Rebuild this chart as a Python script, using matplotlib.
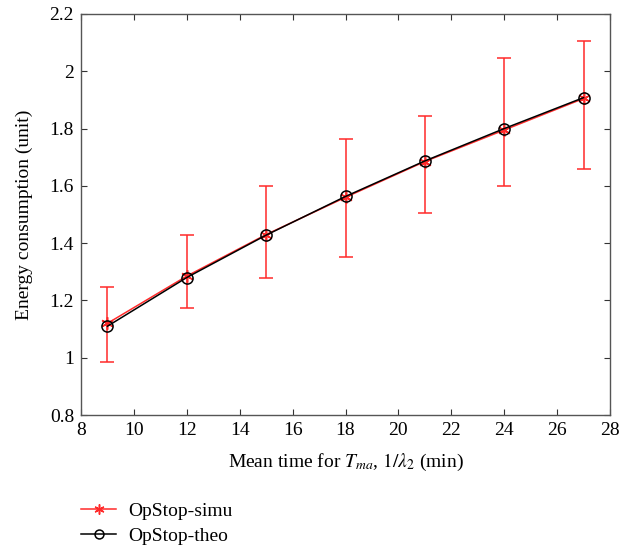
import matplotlib
matplotlib.use("Agg")
import matplotlib.pyplot as plt
import numpy as np

x = [9, 12, 15, 18, 21, 24, 27]
simu = [1.12, 1.285, 1.43, 1.56, 1.685, 1.795, 1.905]
theo = [1.11, 1.28, 1.428, 1.563, 1.687, 1.80, 1.908]
err_low = [0.985, 1.175, 1.28, 1.35, 1.505, 1.60, 1.66]
err_high = [1.248, 1.43, 1.60, 1.762, 1.845, 2.048, 2.105]
xticks = [8, 10, 12, 14, 16, 18, 20, 22, 24, 26, 28]
yticks = [0.8, 1.0, 1.2, 1.4, 1.6, 1.8, 2.0, 2.2]
ytick_labels = ["0.8", "1", "1.2", "1.4", "1.6", "1.8", "2", "2.2"]

plt.rcParams['font.family'] = ['Liberation Serif', 'DejaVu Serif']
plt.rcParams['mathtext.fontset'] = 'stix'

fig = plt.figure(figsize=(6.4, 5.5), dpi=100)
ax = fig.add_axes([81/640, 1-415/550, (610-81)/640, (415-14)/550])

red = '#ff2a2a'
simu_a = np.array(simu)
yerr = [simu_a - np.array(err_low), np.array(err_high) - simu_a]
ax.errorbar(x, simu, yerr=yerr, fmt='none', ecolor=red, elinewidth=1.1,
            capsize=5, capthick=1.1, zorder=2)
ax.plot(x, simu, color=red, marker=(6, 2, 0), markersize=9, markeredgewidth=1.1,
        lw=1.1, label='OpStop-simu', zorder=3)
ax.plot(x, theo, color='black', marker='o', markersize=8, markerfacecolor='none',
        markeredgewidth=1.1, lw=1.1, label='OpStop-theo', zorder=4)

ax.set_xlim(8, 28)
ax.set_ylim(0.8, 2.2)
ax.set_xticks(xticks)
ax.set_yticks(yticks)
ax.set_yticklabels(ytick_labels)
ax.tick_params(direction='in', top=True, right=True, labelsize=14, length=4,
               color='#333333', pad=5)
for s in ax.spines.values():
    s.set_color('#555555')
    s.set_linewidth(1.0)

ax.set_xlabel(r'Mean time for $T_{ma}$, $1/\lambda_2$ (min)', fontsize=14, labelpad=9)
ax.set_ylabel('Energy consumption (unit)', fontsize=14, labelpad=12)

fig.legend(loc='center left', bbox_to_anchor=(81/640, 1-523.5/550), frameon=False,
           fontsize=14, handlelength=1.8, labelspacing=0.35, handletextpad=0.65,
           borderpad=0, borderaxespad=0, markerscale=0.8)

fig.savefig('out.png', dpi=100)
